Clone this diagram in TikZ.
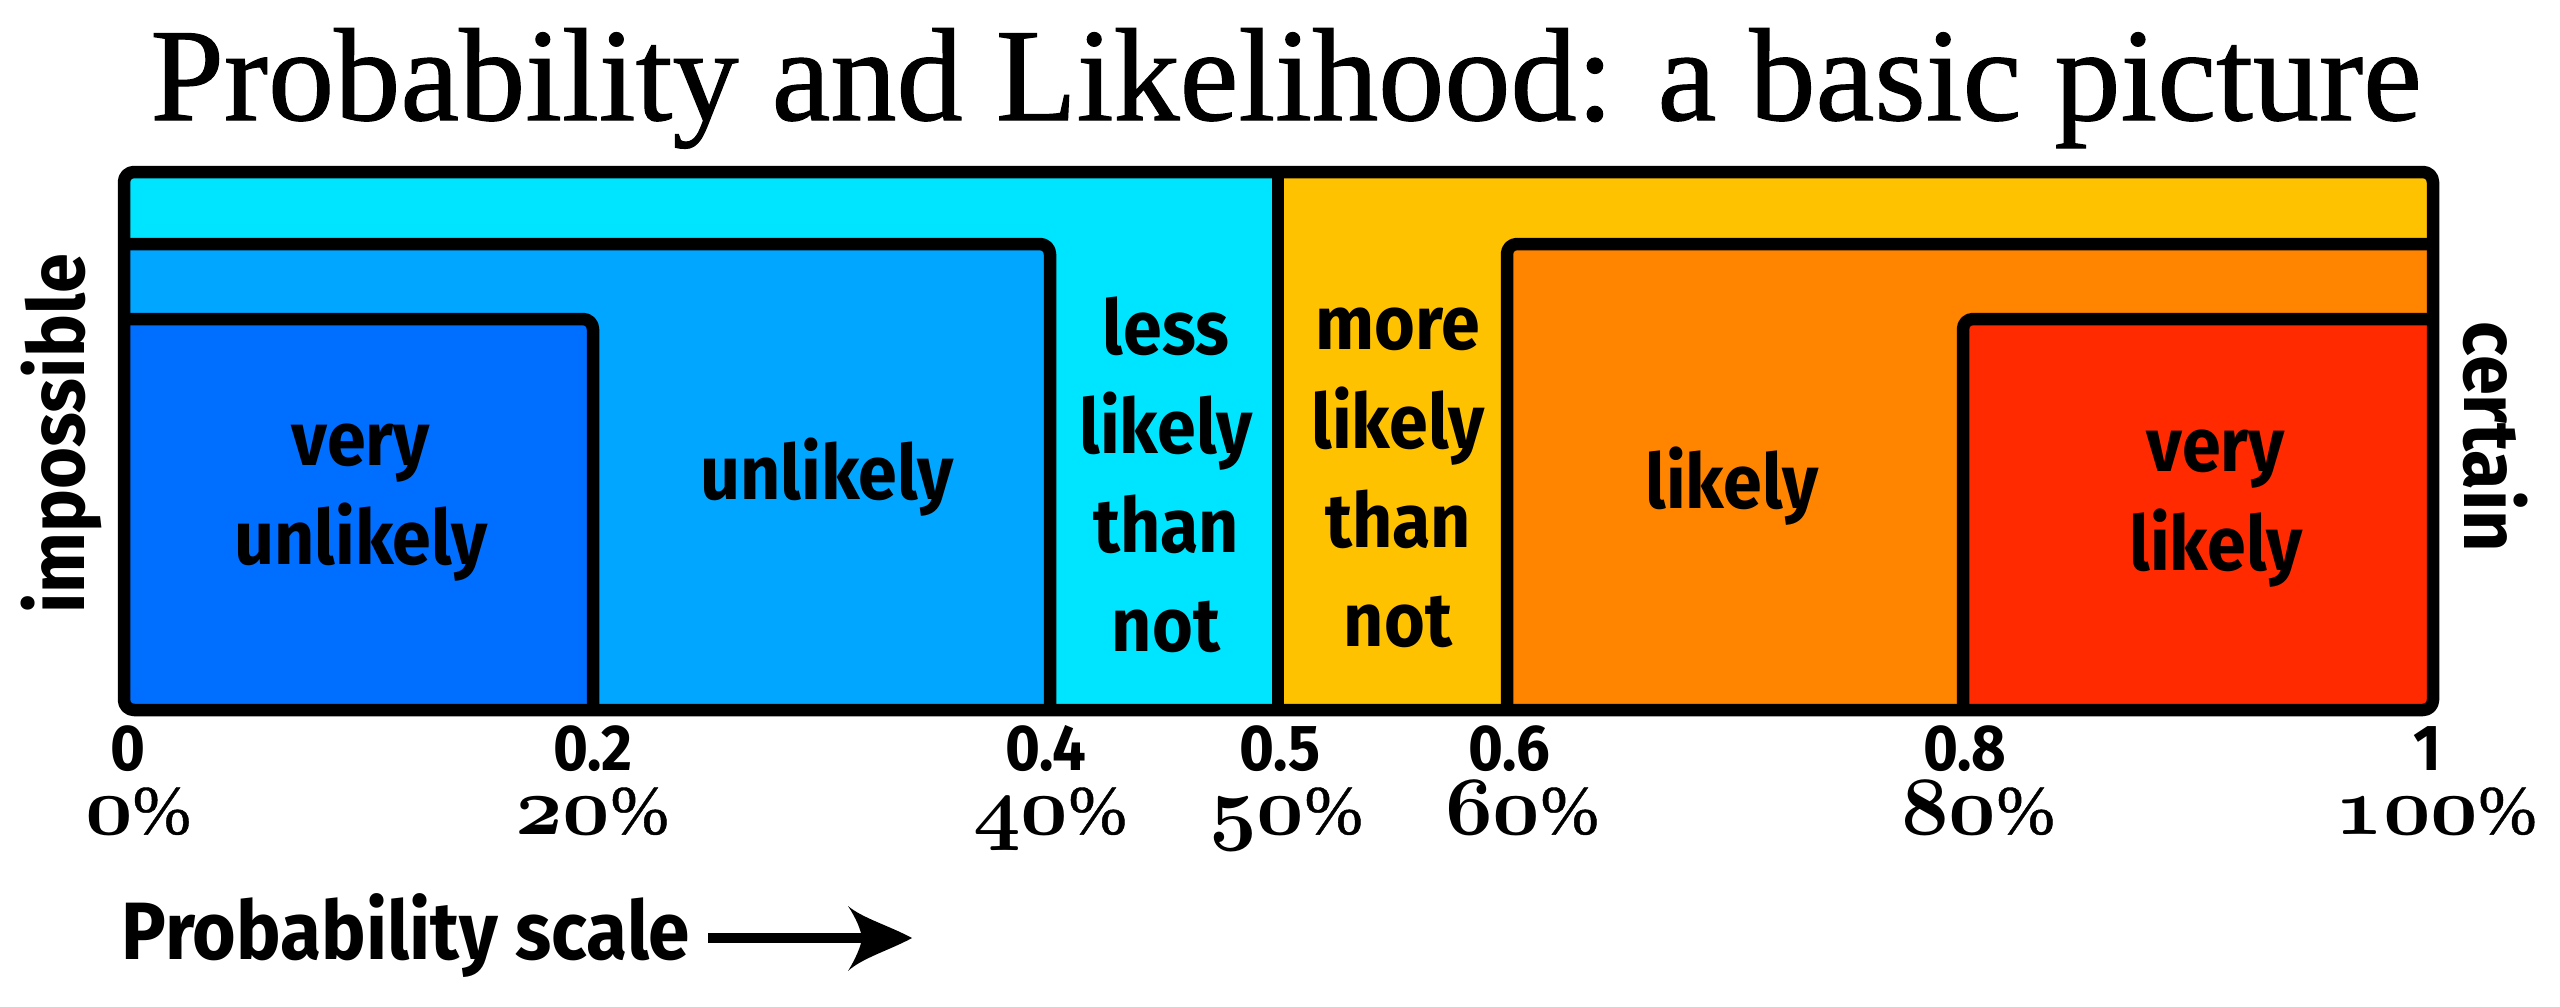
\documentclass[tikz,border=0pt]{standalone}
\usepackage{fontspec}
\newfontfamily\lblfam{Fira Sans}[FakeStretch=0.92]
\newfontfamily\ttlfam{Liberation Serif}[FakeBold=0.8]
\newfontfamily\pctfam{Liberation Serif}[FakeBold=0.6]
\newcommand\osd[1]{{\fontsize{23.5}{23.5}\usefont{OML}{cmm}{b}{it}#1}}
\newcommand\pct[1]{\osd{#1}{\pctfam\fontsize{21}{21}\selectfont\%}}
\definecolor{cCyan}{HTML}{00E5FF}
\definecolor{cLBlue}{HTML}{00A6FF}
\definecolor{cBlue}{HTML}{006EFF}
\definecolor{cGold}{HTML}{FFC200}
\definecolor{cOrange}{HTML}{FF8400}
\definecolor{cRed}{HTML}{FF2A00}
\tikzset{
  edge/.style={line width=3.75pt, rounded corners=3pt, line join=round},
  lbl/.style={font=\lblfam\bfseries\fontsize{22.8}{29.7}\selectfont, align=center, inner sep=0pt},
  side/.style={font=\lblfam\bfseries\fontsize{23.5}{28}\selectfont, inner sep=0pt, anchor=base},
  tick/.style={font=\lblfam\bfseries\fontsize{19.5}{22}\selectfont, inner sep=0pt, anchor=base},
  pctl/.style={inner sep=0pt, anchor=base},
}
\begin{document}
\begin{tikzpicture}[x=0.3pt,y=-0.3pt]
\useasboundingbox (0,0) rectangle (2560,1006);
% background halves
\fill[cCyan] (124,172) rectangle (1278,710);
\fill[cGold] (1278,172) rectangle (2433,710);
% unlikely
\fill[cLBlue] (124,244) rectangle (1050,710);
\draw[edge] (124,244) -- (1050,244) -- (1050,710);
% very unlikely
\fill[cBlue] (124,319) rectangle (593,710);
\draw[edge] (124,319) -- (593,319) -- (593,710);
% likely
\fill[cOrange] (1507,244) rectangle (2433,710);
\draw[edge] (2433,244) -- (1507,244) -- (1507,710);
% very likely
\fill[cRed] (1963,319) rectangle (2433,710);
\draw[edge] (2433,319) -- (1963,319) -- (1963,710);
% middle line
\draw[line width=3.75pt] (1278,172) -- (1278,710);
% outer frame
\draw[edge] (124,172) rectangle (2433,710);

% title
\node[anchor=base, inner sep=0pt, font=\ttlfam\fontsize{39.7}{42}\selectfont] (title) at (1286,120) {Probability and Likelihood: a basic picture};

% region labels
\node[lbl] (vu) at (361,495.5) {\strut very\\unlikely\strut};
\node[lbl] (ul) at (827,480) {\strut unlikely\strut};
\node[lbl] (ltn) at (1166,482.7) {\strut less\\likely\\than\\not\strut};
\node[lbl] (mtn) at (1398,478.4) {\strut more\\likely\\than\\not\strut};
\node[lbl] (lk) at (1732,488.4) {\strut likely\strut};
\node[lbl] (vl) at (2216,501.4) {\strut very\\likely\strut};

% side labels
\node[side, rotate=90] (imp) at (85,434) {impossible};
\node[side, rotate=-90] (cert) at (2464,437) {certain};

% tick labels
\node[tick] (t0) at (128,770) {0};
\node[tick] (t2) at (593,770) {0.2};
\node[tick] (t4) at (1046,770) {0.4};
\node[tick] (t5) at (1280,770) {0.5};
\node[tick] (t6) at (1509,770) {0.6};
\node[tick] (t8) at (1965,770) {0.8};
\node[tick] (t10) at (2427,770) {1};

% percent labels
\node[pctl] (p0) at (138,834) {\pct{0}};
\node[pctl] (p2) at (592,834) {\pct{20}};
\node[pctl] (p4) at (1050,834) {\pct{40}};
\node[pctl] (p5) at (1286,834) {\pct{50}};
\node[pctl] (p6) at (1522,834) {\pct{60}};
\node[pctl] (p8) at (1978,834) {\pct{80}};
\node[pctl] (p10) at (2436,834) {\pct{100}};

% probability scale
\node[anchor=base west, inner sep=0pt, font=\lblfam\bfseries\fontsize{24.4}{26}\selectfont] (scale) at (121,959) {Probability scale};
\coordinate (arrS) at (708,938);
\coordinate (arrH) at (866,938);
\coordinate (arrT) at (912,938);
\draw[line width=3.2pt] (arrS) -- (arrH);
\fill (arrT) .. controls (890,926) and (862,918) .. (848,906)
  .. controls (856,918) and (861,930) .. (862,938)
  .. controls (861,946) and (856,958) .. (848,971)
  .. controls (862,958) and (890,950) .. (arrT) -- cycle;
\end{tikzpicture}
\end{document}
